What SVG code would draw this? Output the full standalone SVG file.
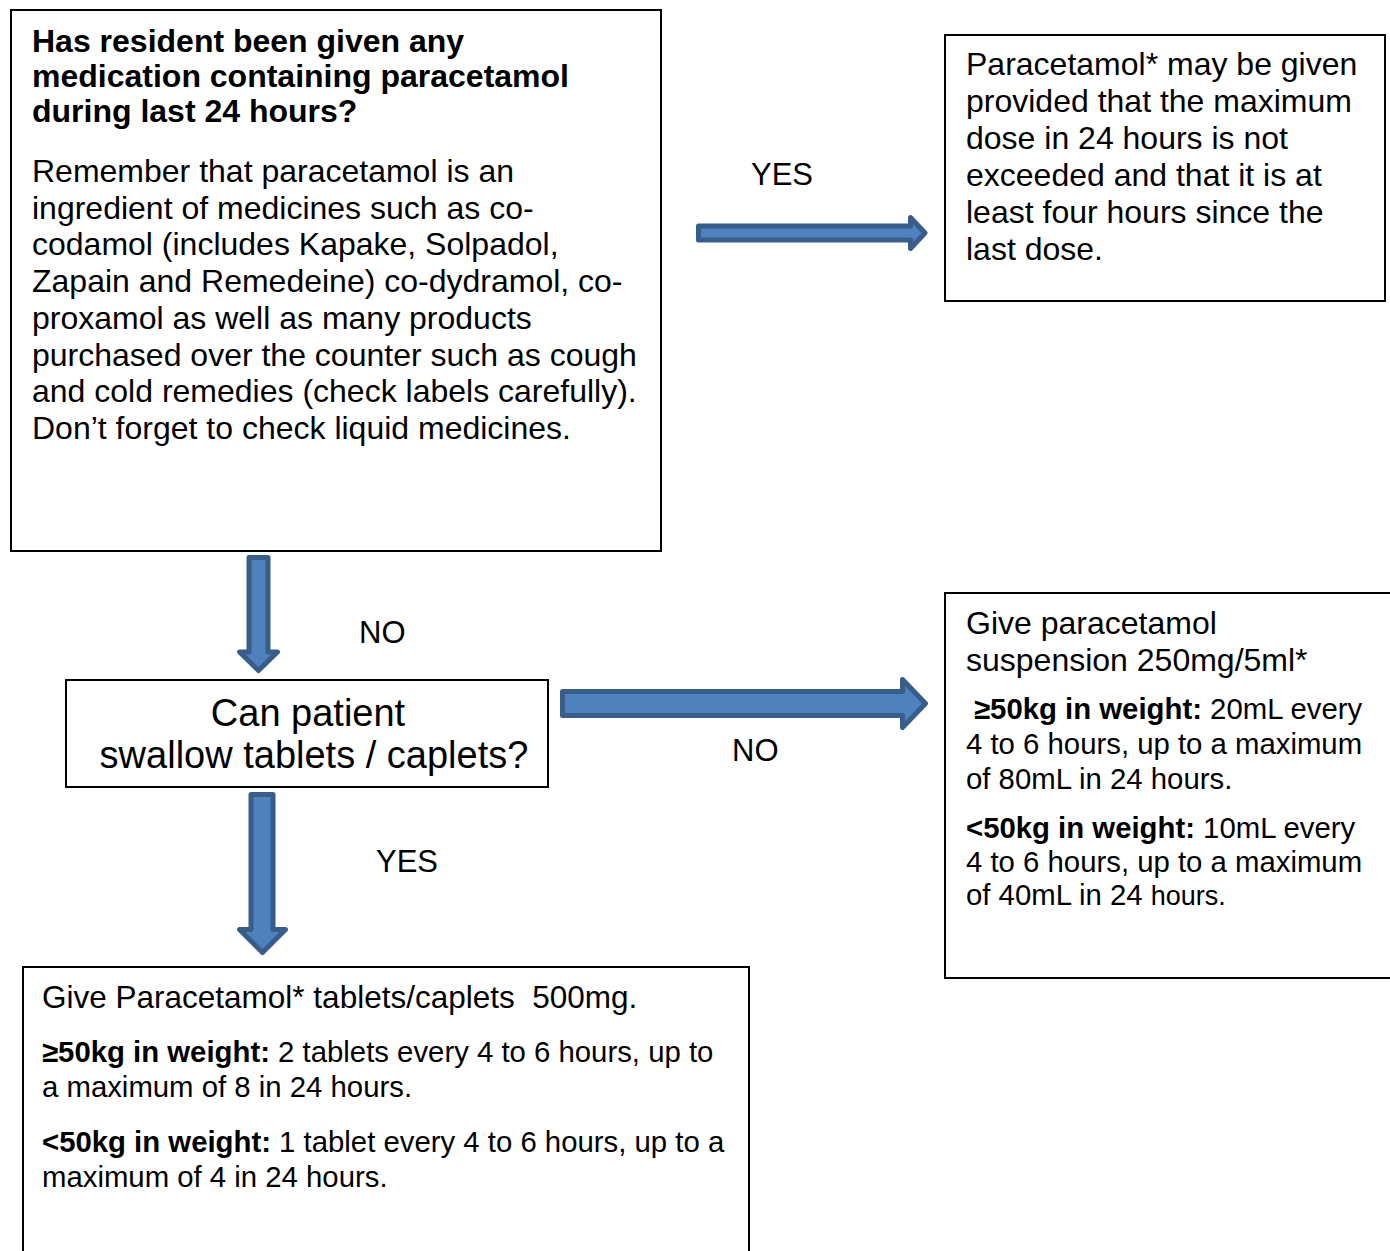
<svg xmlns="http://www.w3.org/2000/svg" width="1390" height="1251" viewBox="0 0 1390 1251">
<style>
.box{fill:#fff;stroke:#000;stroke-width:2}
.t{font-family:"Liberation Sans",Arial,sans-serif;fill:#000}
.b{font-weight:bold}
.s32{font-size:32px}
.s29{font-size:29.33px}
.lbl{font-size:31px}
.arrow{fill:#4f81bd;stroke:#385d8a;stroke-width:5;stroke-linejoin:round}
</style>
<rect width="1390" height="1251" fill="#fff"/>
<g id="connectors">
<path class="arrow" d="M698.5,226 H910.5 V217.5 L925,233 L910.5,248.5 V240 H698.5 Z"/>
<path class="arrow" d="M249,557.5 V652 H239.5 L258.5,670.5 L277.5,652 H268 V557.5 Z"/>
<path class="arrow" d="M562.5,691.5 H902.5 V679.5 L925.5,703.5 L902.5,727.5 V715.5 H562.5 Z"/>
<path class="arrow" d="M251,794.5 V929.5 H239.5 L262.5,952.5 L285.5,929.5 H273 V794.5 Z"/>
<text class="t lbl" x="751" y="185">YES</text>
<text class="t lbl" x="359" y="643">NO</text>
<text class="t lbl" x="732" y="761">NO</text>
<text class="t lbl" x="376" y="872">YES</text>
</g>
<g id="node-question">
<rect class="box" x="11" y="10" width="650" height="541"/>
<text class="t b s32" x="32" y="52">Has resident been given any</text>
<text class="t b s32" x="32" y="87">medication containing paracetamol</text>
<text class="t b s32" x="32" y="122">during last 24 hours?</text>
<text class="t s32" x="32" y="182">Remember that paracetamol is an</text>
<text class="t s32" x="32" y="218.7">ingredient of medicines such as co-</text>
<text class="t s32" x="32" y="255.4">codamol (includes Kapake, Solpadol,</text>
<text class="t s32" x="32" y="292.1">Zapain and Remedeine) co-dydramol, co-</text>
<text class="t s32" x="32" y="328.8">proxamol as well as many products</text>
<text class="t s32" x="32" y="365.5">purchased over the counter such as cough</text>
<text class="t s32" x="32" y="402.2">and cold remedies (check labels carefully).</text>
<text class="t s32" x="32" y="438.9">Don’t forget to check liquid medicines.</text>
</g>
<g id="node-yes-given">
<rect class="box" x="945" y="35" width="440" height="266"/>
<text class="t s32" x="966" y="75">Paracetamol* may be given</text>
<text class="t s32" x="966" y="112">provided that the maximum</text>
<text class="t s32" x="966" y="149">dose in 24 hours is not</text>
<text class="t s32" x="966" y="186">exceeded and that it is at</text>
<text class="t s32" x="966" y="223">least four hours since the</text>
<text class="t s32" x="966" y="260">last dose.</text>
</g>
<g id="node-swallow">
<rect class="box" x="66" y="680" width="482" height="107"/>
<text class="t" font-size="38" x="308" y="726" text-anchor="middle">Can patient</text>
<text class="t" font-size="38" x="314" y="768" text-anchor="middle">swallow tablets / caplets?</text>
</g>
<g id="node-suspension">
<rect class="box" x="945" y="593" width="460" height="385"/>
<text class="t s32" x="966" y="634">Give paracetamol</text>
<text class="t s32" x="966" y="671">suspension 250mg/5ml*</text>
<text class="t s29" x="974" y="719"><tspan class="b">≥50kg in weight:</tspan> 20mL every</text>
<text class="t s29" x="966" y="754">4 to 6 hours, up to a maximum</text>
<text class="t s29" x="966" y="789">of 80mL in 24 hours.</text>
<text class="t s29" x="966" y="838"><tspan class="b">&lt;50kg in weight:</tspan> 10mL every</text>
<text class="t s29" x="966" y="872">4 to 6 hours, up to a maximum</text>
<text class="t s29" x="966" y="905">of 40mL in 24 <tspan font-size="27">hours.</tspan></text>
</g>
<g id="node-tablets">
<rect class="box" x="23" y="967" width="726" height="300"/>
<text class="t" font-size="31.5" x="42" y="1008" xml:space="preserve">Give Paracetamol* tablets/caplets  500mg.</text>
<text class="t s29" x="42" y="1062"><tspan class="b">≥50kg in weight:</tspan> 2 tablets every 4 to 6 hours, up to</text>
<text class="t s29" x="42" y="1097">a maximum of 8 in 24 hours.</text>
<text class="t s29" x="42" y="1152"><tspan class="b">&lt;50kg in weight:</tspan> 1 tablet every 4 to 6 hours, up to a</text>
<text class="t s29" x="42" y="1187">maximum of 4 in 24 hours.</text>
</g>
</svg>
